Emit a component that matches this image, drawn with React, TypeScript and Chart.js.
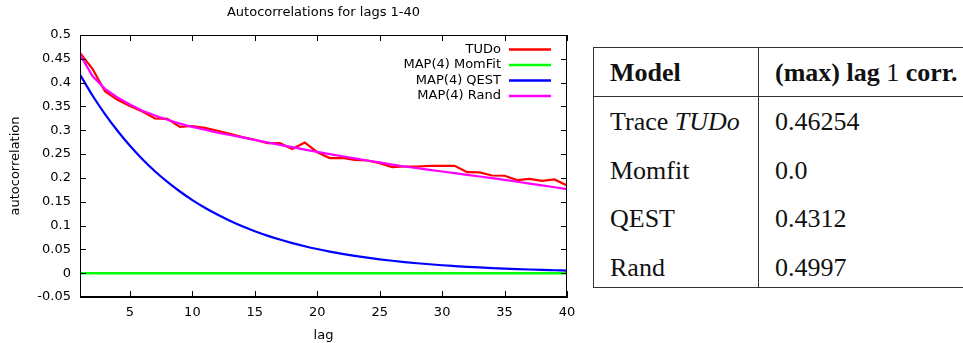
import React, { useEffect, useRef } from "react";
import { Chart, registerables } from "chart.js";

Chart.register(...registerables);

// ---- data ----
const lags = [
  1, 2, 3, 4, 5, 6, 7, 8, 9, 10, 11, 12, 13, 14, 15, 16, 17, 18, 19, 20,
  21, 22, 23, 24, 25, 26, 27, 28, 29, 30, 31, 32, 33, 34, 35, 36, 37, 38, 39, 40,
];

const tudo = [
  0.4625, 0.429, 0.382, 0.364, 0.351, 0.3395, 0.325, 0.324, 0.307, 0.309,
  0.305, 0.299, 0.2926, 0.2855, 0.28, 0.273, 0.273, 0.2605, 0.2744, 0.254,
  0.2416, 0.242, 0.238, 0.2366, 0.231, 0.2227, 0.224, 0.224, 0.2254, 0.2254,
  0.2254, 0.212, 0.2115, 0.205, 0.2045, 0.1953, 0.198, 0.194, 0.1967, 0.184,
];

const momfit = [
  0, 0, 0, 0, 0, 0, 0, 0, 0, 0, 0, 0, 0, 0, 0, 0, 0, 0, 0, 0,
  0, 0, 0, 0, 0, 0, 0, 0, 0, 0, 0, 0, 0, 0, 0, 0, 0, 0, 0, 0,
];

const qest = [
  0.417, 0.373, 0.334, 0.299, 0.2675, 0.2393, 0.2141, 0.1916, 0.1715, 0.1535,
  0.1374, 0.123, 0.1101, 0.0985, 0.0882, 0.0789, 0.0706, 0.0632, 0.0566, 0.0507,
  0.0454, 0.0406, 0.0363, 0.0325, 0.0291, 0.0261, 0.0233, 0.0209, 0.0187, 0.0167,
  0.015, 0.0134, 0.012, 0.0107, 0.0096, 0.0086, 0.0077, 0.0069, 0.0062, 0.0055,
];

const rand = [
  0.459, 0.414, 0.387, 0.369, 0.354, 0.341, 0.331, 0.322, 0.314, 0.307,
  0.301, 0.295, 0.29, 0.285, 0.2795, 0.2745, 0.2695, 0.2645, 0.2595, 0.2545,
  0.25, 0.2455, 0.241, 0.2365, 0.2325, 0.228, 0.224, 0.2205, 0.217, 0.2135,
  0.21, 0.2065, 0.203, 0.1995, 0.196, 0.192, 0.188, 0.1843, 0.1804, 0.1765,
];

const seriesLabels = ["TUDo", "MAP(4) MomFit", "MAP(4) QEST", "MAP(4) Rand"];
const seriesColors = ["#ff0000", "#00ff00", "#0000ff", "#ff00ff"];

const xTicks = [5, 10, 15, 20, 25, 30, 35, 40];
const yTicks = [-0.05, 0, 0.05, 0.1, 0.15, 0.2, 0.25, 0.3, 0.35, 0.4, 0.45, 0.5];

const chartTitle = "Autocorrelations for lags 1-40";
const xTitle = "lag";
const yTitle = "autocorrelation";

const tableModels = ["Trace", "Momfit", "QEST", "Rand"];
const tableModelItalic = ["TUDo", "", "", ""];
const tableValues = ["0.46254", "0.0", "0.4312", "0.4997"];

const FONT = "'DejaVu Sans', sans-serif";

const gnuplotDecor = {
  id: "gnuplotDecor",
  afterDatasetsDraw(chart: any) {
    const { ctx, chartArea } = chart;
    const { left, right, top, bottom } = chartArea;
    const xs = chart.scales.x;
    const ys = chart.scales.y;
    ctx.save();
    ctx.strokeStyle = "#000";
    ctx.lineWidth = 1;
    // full frame
    ctx.beginPath();
    ctx.rect(Math.round(left) + 0.5, Math.round(top) + 0.5, Math.round(right - left) - 1, Math.round(bottom - top) - 1);
    ctx.stroke();
    const tl = 6;
    ctx.beginPath();
    xTicks.forEach((v) => {
      const px = Math.round(xs.getPixelForValue(v)) + 0.5;
      ctx.moveTo(px, bottom);
      ctx.lineTo(px, bottom - tl);
      ctx.moveTo(px, top);
      ctx.lineTo(px, top + tl);
    });
    yTicks.forEach((v) => {
      const py = Math.round(ys.getPixelForValue(v)) + 0.5;
      ctx.moveTo(left, py);
      ctx.lineTo(left + tl, py);
      ctx.moveTo(right, py);
      ctx.lineTo(right - tl, py);
    });
    ctx.stroke();

    // title
    ctx.fillStyle = "#000";
    ctx.font = "13px " + FONT;
    ctx.textAlign = "center";
    ctx.textBaseline = "middle";
    ctx.fillText(chartTitle, (left + right) / 2, 13);

    // legend (gnuplot style: text then line sample)
    const textRight = 501;
    const lineStart = 509;
    const lineEnd = 551;
    const rowTop = 49.5;
    const rowStep = 15.5;
    ctx.textAlign = "right";
    chart.data.datasets.forEach((ds: any, i: number) => {
      const y = rowTop + i * rowStep;
      ctx.fillStyle = "#000";
      ctx.fillText(ds.label, textRight, y);
      ctx.strokeStyle = ds.borderColor;
      ctx.lineWidth = 2.5;
      ctx.beginPath();
      ctx.moveTo(lineStart, y);
      ctx.lineTo(lineEnd, y);
      ctx.stroke();
    });
    ctx.restore();
  },
};

function AutocorrChart() {
  const ref = useRef<HTMLCanvasElement | null>(null);
  useEffect(() => {
    const canvas = ref.current;
    if (!canvas) return;
    const series = [tudo, momfit, qest, rand];
    const chart = new Chart(canvas, {
      type: "line",
      data: {
        datasets: series.map((s, i) => ({
          label: seriesLabels[i],
          data: lags.map((x, j) => ({ x, y: s[j] })),
          borderColor: seriesColors[i],
          backgroundColor: seriesColors[i],
          borderWidth: i === 1 ? 2.5 : 2.2,
          pointRadius: 0,
          tension: 0,
          cubicInterpolationMode: i === 2 ? "monotone" : "default",
          fill: false,
          order: 4 - i,
        })),
      },
      options: {
        animation: false,
        responsive: false,
        devicePixelRatio: 1,
        layout: { padding: { top: 35, right: 23, left: 0, bottom: 0 } },
        plugins: {
          legend: { display: false },
          title: { display: false },
          tooltip: { enabled: false },
        },
        scales: {
          x: {
            type: "linear",
            min: 1,
            max: 40,
            afterBuildTicks: (s: any) => {
              s.ticks = xTicks.map((v) => ({ value: v }));
            },
            afterFit: (s: any) => {
              s.height = 46;
            },
            grid: { display: false, drawTicks: false },
            border: { display: true, color: "#000", width: 1 },
            ticks: {
              color: "#000",
              font: { family: FONT, size: 13 },
              padding: 8,
              maxRotation: 0,
              autoSkip: false,
            },
            title: {
              display: true,
              text: xTitle,
              color: "#000",
              font: { family: FONT, size: 13 },
              padding: { top: 0, bottom: 0 },
            },
          },
          y: {
            type: "linear",
            min: -0.05,
            max: 0.5,
            afterBuildTicks: (s: any) => {
              s.ticks = yTicks.map((v) => ({ value: v }));
            },
            afterFit: (s: any) => {
              s.width = 80;
            },
            grid: { display: false, drawTicks: false },
            border: { display: true, color: "#000", width: 1 },
            ticks: {
              color: "#000",
              font: { family: FONT, size: 13 },
              padding: 9,
              autoSkip: false,
              callback: (v: any) => String(parseFloat(Number(v).toFixed(2))),
            },
            title: {
              display: true,
              text: yTitle,
              color: "#000",
              font: { family: FONT, size: 13 },
              padding: { top: 8, bottom: 0 },
            },
          },
        },
      },
      plugins: [gnuplotDecor],
    });
    return () => chart.destroy();
  }, []);
  return (
    <canvas
      ref={ref}
      width={590}
      height={343}
      style={{ position: "absolute", left: 0, top: 0, width: 590, height: 343 }}
    />
  );
}

const line = "1px solid #333";
const cellBase: React.CSSProperties = {
  padding: "0 0 0 16px",
  verticalAlign: "top",
  lineHeight: "30px",
  whiteSpace: "nowrap",
  boxSizing: "border-box",
};

function ResultsTable() {
  const rowHeights = [49, 49, 48, 45];
  const rowPads = [10, 10, 9.5, 10];
  return (
    <table
      style={{
        position: "absolute",
        left: 593,
        top: 47,
        borderCollapse: "collapse",
        tableLayout: "fixed",
        width: 420,
        fontFamily: "'Liberation Serif', 'Times New Roman', serif",
        fontSize: 26,
        color: "#111",
      }}
    >
      <colgroup>
        <col style={{ width: 165 }} />
        <col style={{ width: 255 }} />
      </colgroup>
      <thead>
        <tr style={{ height: 49 }}>
          <th
            style={{
              ...cellBase,
              paddingTop: 10,
              textAlign: "left",
              fontWeight: "bold",
              borderTop: line,
              borderLeft: line,
              borderBottom: line,
              borderRight: line,
            }}
          >
            Model
          </th>
          <th
            style={{
              ...cellBase,
              paddingTop: 10,
              textAlign: "left",
              fontWeight: "bold",
              borderTop: line,
              borderBottom: line,
              borderRight: line,
            }}
          >
            (max) lag <span style={{ fontWeight: "normal" }}>1</span> corr.
          </th>
        </tr>
      </thead>
      <tbody>
        {tableModels.map((m, i) => (
          <tr key={m} style={{ height: rowHeights[i] }}>
            <td
              style={{
                ...cellBase,
                paddingTop: rowPads[i],
                borderLeft: line,
                borderRight: line,
                borderBottom: i === tableModels.length - 1 ? line : "none",
              }}
            >
              {m}
              {tableModelItalic[i] ? (
                <>
                  {" "}
                  <i>{tableModelItalic[i]}</i>
                </>
              ) : null}
            </td>
            <td
              style={{
                ...cellBase,
                paddingTop: rowPads[i],
                borderRight: line,
                borderBottom: i === tableModels.length - 1 ? line : "none",
              }}
            >
              {tableValues[i]}
            </td>
          </tr>
        ))}
      </tbody>
    </table>
  );
}

export default function App() {
  return (
    <div
      style={{
        position: "absolute",
        left: 0,
        top: 0,
        width: 963,
        height: 343,
        overflow: "hidden",
        background: "#fff",
      }}
    >
      <AutocorrChart />
      <ResultsTable />
    </div>
  );
}
